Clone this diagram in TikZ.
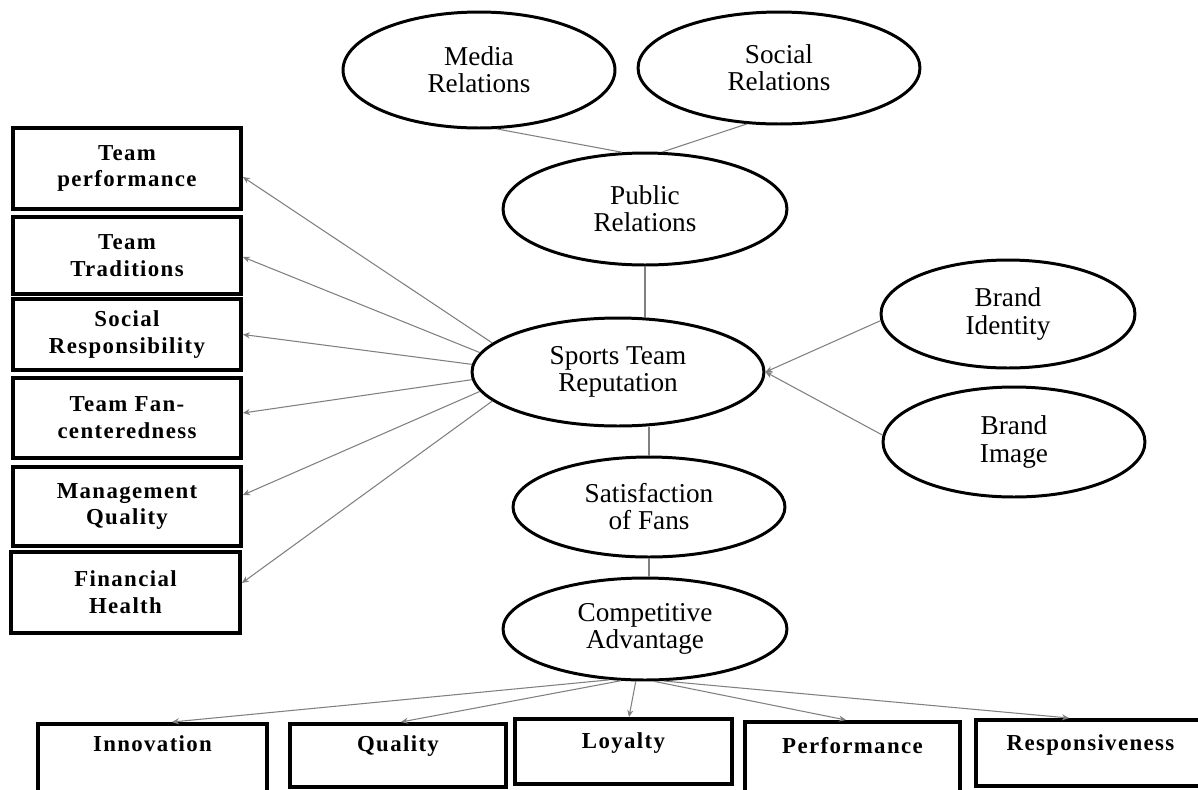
\documentclass[tikz,border=0pt]{standalone}
\usepackage{fontspec}
\setmainfont{Liberation Serif}
\newfontfamily\boxfont[LetterSpace=6]{Liberation Serif}
\usetikzlibrary{shapes.geometric,arrows.meta,calc}
\begin{document}
\begin{tikzpicture}[x=0.02cm,y=-0.02cm,
  ell/.style={ellipse,draw,line width=1.7pt,inner sep=0pt,align=center,
    font=\fontsize{15.5}{15.4}\selectfont},
  lbox/.style={rectangle,draw,line width=2.2pt,inner sep=0pt,align=center,
    minimum width=4.56cm,font=\boxfont\bfseries\fontsize{13}{15.3}\selectfont},
  bbox/.style={rectangle,draw,line width=2.2pt,inner sep=0pt,anchor=north,
    font=\boxfont\bfseries\fontsize{13}{15.3}\selectfont},
  conn/.style={draw=black!50,line width=0.6pt},
  arr/.style={conn,-{Stealth[length=4pt,width=3.5pt]}}]
\useasboundingbox (0,0) rectangle (1198,789);
\fill[white] (0,0) rectangle (1198,789);

% ellipses
\node[ell,minimum width=5.44cm,minimum height=2.32cm] (mr) at (479,70) {Media\\Relations};
\node[ell,minimum width=5.64cm,minimum height=2.24cm] (sr) at (779,68) {Social\\Relations};
\node[ell,minimum width=5.68cm,minimum height=2.24cm] (pr) at (645,209) {Public\\Relations};
\node[ell,minimum width=5.84cm,minimum height=2.16cm] (srep) at (618,372) {Sports Team\\Reputation};
\node[ell,minimum width=5.44cm,minimum height=2.0cm] (sf) at (649,507) {Satisfaction\\of Fans};
\node[ell,minimum width=5.68cm,minimum height=2.04cm] (ca) at (645,629) {Competitive\\Advantage};
\node[ell,minimum width=5.08cm,minimum height=2.16cm] (bi) at (1008,314) {Brand\\Identity};
\node[ell,minimum width=5.24cm,minimum height=2.2cm] (bim) at (1014,442) {Brand\\Image};

% left boxes
\node[lbox,minimum height=1.62cm] (tp) at (127,168.5) {Team\\performance};
\node[lbox,minimum height=1.54cm] (tt) at (127,255.5) {Team\\Traditions};
\node[lbox,minimum height=1.42cm] (sresp) at (127,334.5) {Social\\Responsibility};
\node[lbox,minimum height=1.6cm] (fan) at (127,418) {Team Fan-\\centeredness};
\node[lbox,minimum height=1.58cm] (mq) at (127,506.5) {Management\\Quality};
\node[lbox,minimum height=1.62cm,minimum width=4.58cm] (fh) at (125.5,592.5) {Financial\\Health};

% bottom boxes
\node[bbox,minimum width=4.58cm,text height=0.56cm,text depth=1.0cm] (inn) at (152.5,722) {Innovation};
\node[bbox,minimum width=4.32cm,text height=0.56cm,text depth=0.7cm] (qua) at (398,722) {Quality};
\node[bbox,minimum width=4.34cm,text height=0.6cm,text depth=0.7cm] (loy) at (623.5,717) {Loyalty};
\node[bbox,minimum width=4.3cm,text height=0.64cm,text depth=0.96cm] (per) at (852.5,720) {Performance};
\node[bbox,minimum width=4.58cm,text height=0.62cm,text depth=0.7cm] (res) at (1090.5,718) {Responsiveness};

% top connectors
\draw[conn] (mr.-73) -- (pr.112.6);
\draw[conn] (sr.240) -- (pr.73);
\draw[conn] (pr.south) -- (pr.south |- srep.north);
\draw[conn] (srep.south -| sf.north) -- (sf.north);
\draw[conn] (sf.south) -- (sf.south |- ca.north);

% left arrows
\draw[arr] (srep.167) -- ($(tp.east)+(0,8.5)$);
\draw[arr] (srep.172) -- ($(tt.east)+(0,1.5)$);
\draw[arr] (srep.177) -- (sresp.east);
\draw[arr] (srep.183) -- ($(fan.east)+(0,-5)$);
\draw[arr] (srep.188) -- ($(mq.east)+(0,-11.5)$);
\draw[arr] (srep.193) -- ($(fh.east)+(0,-9.5)$);

% brand arrows
\draw[arr] (bi.183) -- (srep.east);
\draw[arr] (bim.177) -- (srep.east);

% bottom arrows
\draw[arr] (ca.235) -- ($(inn.north)+(19.5,0)$);
\draw[arr] (ca.245) -- ($(qua.north)+(3,0)$);
\draw[arr] (ca.260) -- ($(loy.north)+(5.5,0)$);
\draw[arr] (ca.280) -- ($(per.north)+(-6.5,0)$);
\draw[arr] (ca.290) -- ($(res.north)+(-21.5,0)$);
\end{tikzpicture}
\end{document}
